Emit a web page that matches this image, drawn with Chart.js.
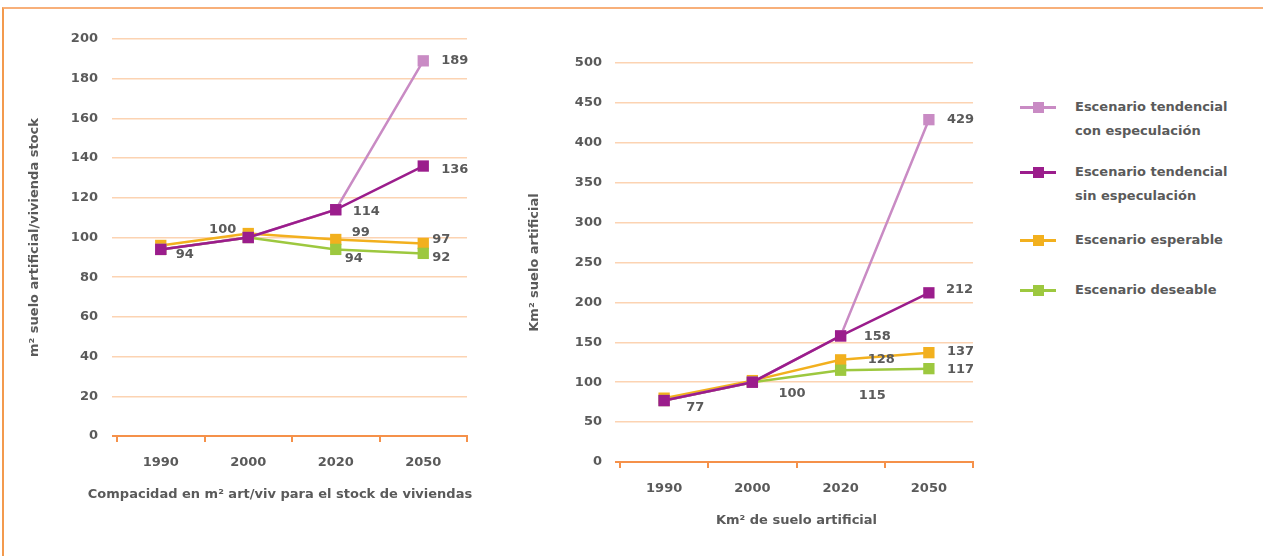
<!DOCTYPE html>
<html>
<head>
<meta charset="utf-8">
<script src="https://cdn.jsdelivr.net/npm/chart.js@4.4.1/dist/chart.umd.min.js"></script>
<style>
  body { margin: 0; background: #fff; width: 1263px; height: 556px; overflow: hidden; position: relative; font-family: 'DejaVu Sans', sans-serif; }
  .frame { position: absolute; left: 2px; top: 7px; width: 1270px; height: 560px; border-top: 2px solid #f8b07a; border-left: 2px solid #f39a4d; }
  .box { position: absolute; top: 0; height: 556px; width: 500px; }
  #legend { position: absolute; left: 1020px; top: 0; }
  .item { position: absolute; left: 0; width: 240px; }
  .mk { position: absolute; left: 0; width: 36px; height: 3px; }
  .mk span { position: absolute; left: 13px; top: -4px; width: 11px; height: 11px; }
  .txt { position: absolute; left: 55px; font-size: 13px; font-weight: bold; color: #5a5a5a; line-height: 24px; white-space: nowrap; }
</style>
</head>
<body>
<div class="frame"></div>
<div class="box" style="left:0"><canvas id="c1"></canvas></div>
<div class="box" style="left:500px"><canvas id="c2"></canvas></div>
<div id="legend"></div>

<script>
// categories
const years = ['1990', '2000', '2020', '2050'];

// series names
const seriesNames = [
  ['Escenario tendencial', 'con especulación'],
  ['Escenario tendencial', 'sin especulación'],
  ['Escenario esperable'],
  ['Escenario deseable']
];
const colors = ['#c98bc4', '#9b1d8c', '#f2b01e', '#9dc83f'];

// m2 suelo artificial / vivienda stock
const compConEspec = [94, 100, 114, 189];
const compSinEspec = [94, 100, 114, 136];
const compEsperable = [96, 102, 99, 97];
const compDeseable = [94, 100, 94, 92];

// Km2 de suelo artificial
const kmConEspec = [77, 100, 158, 429];
const kmSinEspec = [77, 100, 158, 212];
const kmEsperable = [80, 102, 128, 137];
const kmDeseable = [77, 100, 115, 117];

// value labels shown: [dataset, index, dx, dy, align]
const labels1 = [
  [0, 3, 18, 0, 'left'], [1, 3, 18, 4, 'left'], [1, 2, 17, 2, 'left'],
  [2, 2, 16, -7, 'left'], [2, 3, 9, -4, 'left'], [3, 3, 9, 4, 'left'],
  [3, 2, 9, 9, 'left'], [1, 1, -12, -8, 'right'], [1, 0, 15, 5, 'left']
];
const labels2 = [
  [0, 3, 18, 0, 'left'], [1, 3, 17, -3, 'left'], [1, 2, 23, 1, 'left'],
  [2, 2, 27, 0, 'left'], [2, 3, 18, -1, 'left'], [3, 3, 18, 1, 'left'],
  [3, 2, 18, 25, 'left'], [1, 1, 26, 11, 'left'], [1, 0, 22, 7, 'left']
];

const textColor = '#5a5a5a';
const gridColor = '#fcd3b2';
const axisColor = '#f5914a';
const font = { family: "'DejaVu Sans', sans-serif", size: 13, weight: 'bold' };

// draws the numbers next to the points, and the x axis title (not squeezed to the plot width)
const valueLabels = {
  id: 'valueLabels',
  afterDatasetsDraw(chart, args, opts) {
    const ctx = chart.ctx;
    ctx.save();
    ctx.font = 'bold 13px ' + font.family;
    ctx.fillStyle = textColor;
    ctx.textBaseline = 'middle';
    opts.items.forEach(([ds, i, dx, dy, align]) => {
      const pt = chart.getDatasetMeta(ds).data[i];
      ctx.textAlign = align;
      ctx.fillText(chart.data.datasets[ds].data[i], pt.x + dx, pt.y + dy);
    });
    const area = chart.chartArea;
    ctx.textAlign = 'center';
    ctx.fillText(opts.xTitle, (area.left + area.right) / 2 + opts.xTitleDx, area.bottom + opts.xTitleDy);
    ctx.restore();
  }
};

function makeChart(id, series, cfg) {
  const order = [1, 0, 3, 2];
  return new Chart(document.getElementById(id), {
    type: 'line',
    data: {
      labels: years,
      datasets: series.map((d, i) => ({
        label: seriesNames[i].join(' '),
        data: d,
        borderColor: colors[i],
        backgroundColor: colors[i],
        borderWidth: 2.5,
        pointStyle: 'rect',
        pointRadius: 8,
        pointBorderWidth: 0,
        order: order[i]
      }))
    },
    plugins: [valueLabels],
    options: {
      responsive: true,
      maintainAspectRatio: false,
      animation: false,
      layout: { padding: { left: 0, right: cfg.padRight, top: cfg.top, bottom: cfg.padBottom } },
      plugins: {
        legend: { display: false },
        tooltip: { enabled: false },
        valueLabels: { items: cfg.labels, xTitle: cfg.xTitle, xTitleDx: cfg.xTitleDx, xTitleDy: 59 }
      },
      scales: {
        x: {
          offset: true,
          grid: { offset: true, drawOnChartArea: false, drawTicks: true, tickLength: 6, color: axisColor, lineWidth: 2 },
          border: { display: true, color: axisColor, width: 2 },
          ticks: { color: textColor, font: font, padding: 13 },
          afterFit: s => { s.height = 71; }
        },
        y: {
          min: 0,
          max: cfg.max,
          ticks: { stepSize: cfg.step, color: textColor, font: font, padding: cfg.tickPad },
          grid: {
            color: c => c.tick && c.tick.value === 0 ? axisColor : gridColor,
            lineWidth: c => c.tick && c.tick.value === 0 ? 2 : 1.5,
            drawTicks: true,
            tickLength: 5
          },
          border: { display: false },
          title: { display: true, text: cfg.yTitle, color: textColor, font: font, padding: { top: 27, bottom: 0 } },
          afterFit: s => { s.width = cfg.yWidth; }
        }
      }
    }
  });
}

makeChart('c1', [compConEspec, compSinEspec, compEsperable, compDeseable], {
  max: 200, step: 20, top: 39, padRight: 33, padBottom: 49, yWidth: 117, tickPad: 14,
  xTitle: 'Compacidad en m² art/viv para el stock de viviendas', xTitleDx: -12,
  yTitle: 'm² suelo artificial/vivienda stock',
  labels: labels1
});

makeChart('c2', [kmConEspec, kmSinEspec, kmEsperable, kmDeseable], {
  max: 500, step: 50, top: 63, padRight: 27, padBottom: 23, yWidth: 120, tickPad: 13,
  xTitle: 'Km² de suelo artificial', xTitleDx: 0,
  yTitle: 'Km² suelo artificial',
  labels: labels2
});

// legend
const legendTops = [107, 172, 240, 290];
const legend = document.getElementById('legend');
seriesNames.forEach((name, i) => {
  const item = document.createElement('div');
  item.className = 'item';
  item.style.top = legendTops[i] + 'px';
  item.innerHTML =
    '<div class="mk" style="top:-1px;background:' + colors[i] + '"><span style="background:' + colors[i] + '"></span></div>' +
    '<div class="txt" style="top:-12px">' + name.join('<br>') + '</div>';
  legend.appendChild(item);
});
</script>
</body>
</html>
